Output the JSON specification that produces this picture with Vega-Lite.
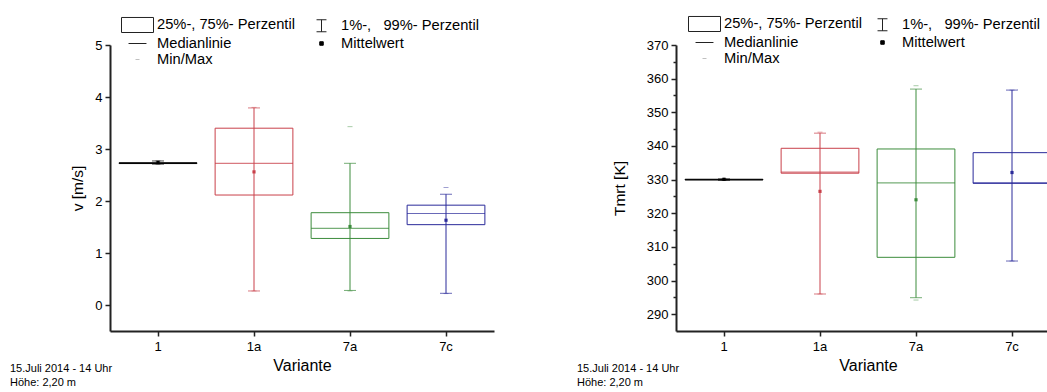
{
  "$schema": "https://vega.github.io/schema/vega-lite/v6.json",
  "background": "white",
  "padding": {"left": 10, "top": 15, "right": 0, "bottom": 0},
  "bounds": "flush",
  "spacing": 182,
  "config": {
    "font": "Liberation Sans",
    "view": {"stroke": null},
    "axis": {
      "grid": false,
      "labelColor": "black",
      "labelFontSize": 13,
      "labelOverlap": false,
      "titleColor": "black",
      "titleFontWeight": "normal",
      "titleFontSize": 15.5,
      "domainColor": "#222222",
      "domainWidth": 2,
      "tickColor": "#222222",
      "tickWidth": 1.5
    },
    "legend": {
      "title": null,
      "orient": "none",
      "columns": 2,
      "padding": 0,
      "offset": 0,
      "symbolSize": 256,
      "symbolStrokeWidth": 1,
      "labelOffset": 11,
      "rowPadding": 0,
      "labelFontSize": 14.7,
      "labelColor": "black",
      "labelLimit": 300
    }
  },
  "datasets": {
    "v": [
      {"variante": "1", "p1": 2.71, "q1": 2.72, "median": 2.73, "q3": 2.735, "p99": 2.77, "mean": 2.74, "min": 2.71, "max": 2.77},
      {"variante": "1a", "p1": 0.27, "q1": 2.115, "median": 2.725, "q3": 3.4, "p99": 3.79, "mean": 2.56, "min": 0.27, "max": 3.8},
      {"variante": "7a", "p1": 0.28, "q1": 1.28, "median": 1.475, "q3": 1.775, "p99": 2.725, "mean": 1.51, "min": 0.27, "max": 3.43},
      {"variante": "7c", "p1": 0.225, "q1": 1.545, "median": 1.76, "q3": 1.92, "p99": 2.13, "mean": 1.63, "min": 0.22, "max": 2.26}
    ],
    "tmrt": [
      {"variante": "1", "p1": 329.8, "q1": 329.9, "median": 330.0, "q3": 330.1, "p99": 330.2, "mean": 330.1, "min": 329.8, "max": 330.2},
      {"variante": "1a", "p1": 296.0, "q1": 331.9, "median": 332.2, "q3": 339.3, "p99": 343.8, "mean": 326.5, "min": 296.0, "max": 344.1},
      {"variante": "7a", "p1": 294.9, "q1": 306.9, "median": 329.0, "q3": 339.1, "p99": 356.9, "mean": 324.0, "min": 294.2, "max": 357.9},
      {"variante": "7c", "p1": 305.8, "q1": 328.9, "median": 329.0, "q3": 338.0, "p99": 356.6, "mean": 332.1, "min": 305.8, "max": 356.6}
    ],
    "legende": [
      {"item": "25%-, 75%- Perzentil"},
      {"item": "Medianlinie"},
      {"item": "Min/Max"},
      {"item": "1%-,\u00a0\u00a0 99%- Perzentil"},
      {"item": "Mittelwert"}
    ]
  },
  "resolve": {
    "scale": {"x": "independent", "y": "independent", "color": "independent", "shape": "independent", "fill": "independent", "stroke": "independent"},
    "legend": {"shape": "independent", "fill": "independent", "stroke": "independent"}
  },
  "hconcat": [
    {
      "width": 384,
      "height": 286,
      "title": {"text": ["15.Juli 2014 - 14 Uhr", "Höhe: 2,20 m"], "orient": "bottom", "anchor": "start", "frame": "group", "dx": -100, "offset": -10, "fontSize": 11, "fontWeight": "normal", "lineHeight": 14, "color": "black"},
      "data": {"name": "v"},
      "layer": [
        {
          "mark": {"type": "rule", "strokeWidth": 1},
          "encoding": {
            "x": {"field": "variante", "type": "nominal", "sort": ["1", "1a", "7a", "7c"], "scale": {"type": "band", "paddingInner": 0, "paddingOuter": 0}, "axis": {"title": "Variante", "titleFontSize": 16, "labelAngle": 0, "tickSize": 5, "labelPadding": 4, "titlePadding": 4}},
            "y": {"field": "p1", "type": "quantitative", "scale": {"domain": [-0.5, 5], "nice": false, "zero": false}, "axis": {"title": "v [m/s]", "values": [0, 0.5, 1, 1.5, 2, 2.5, 3, 3.5, 4, 4.5, 5], "tickCount": 30, "format": "d", "labelOverlap": false, "labelColor": {"condition": {"test": "datum.value % 1 !== 0", "value": "transparent"}, "value": "black"}, "tickSize": {"condition": {"test": "datum.value % 1 !== 0", "value": 3}, "value": 5}, "labelPadding": 3, "titlePadding": 9}},
            "y2": {"field": "p99"},
            "color": {"field": "variante", "type": "nominal", "scale": {"domain": ["1", "1a", "7a", "7c"], "range": ["#000000", "#c9404a", "#3c8c3c", "#2a2a9a"]}, "legend": null}
          }
        },
        {
          "mark": {"type": "tick", "size": 12, "thickness": 1},
          "encoding": {
            "x": {"field": "variante", "type": "nominal", "sort": ["1", "1a", "7a", "7c"]},
            "y": {"field": "p1", "type": "quantitative"},
            "color": {"field": "variante", "type": "nominal", "legend": null}
          }
        },
        {
          "mark": {"type": "tick", "size": 12, "thickness": 1},
          "encoding": {
            "x": {"field": "variante", "type": "nominal", "sort": ["1", "1a", "7a", "7c"]},
            "y": {"field": "p99", "type": "quantitative"},
            "color": {"field": "variante", "type": "nominal", "legend": null}
          }
        },
        {
          "mark": {"type": "bar", "filled": false, "strokeWidth": 1, "width": {"band": 0.81}},
          "encoding": {
            "x": {"field": "variante", "type": "nominal", "sort": ["1", "1a", "7a", "7c"]},
            "y": {"field": "q1", "type": "quantitative"},
            "y2": {"field": "q3"},
            "color": {"field": "variante", "type": "nominal", "legend": null}
          }
        },
        {
          "mark": {"type": "tick", "size": 78, "thickness": 1.2},
          "encoding": {
            "x": {"field": "variante", "type": "nominal", "sort": ["1", "1a", "7a", "7c"]},
            "y": {"field": "median", "type": "quantitative"},
            "color": {"field": "variante", "type": "nominal", "legend": null}
          }
        },
        {
          "mark": {"type": "point", "shape": "square", "filled": true, "size": 10, "opacity": 1},
          "encoding": {
            "x": {"field": "variante", "type": "nominal", "sort": ["1", "1a", "7a", "7c"]},
            "y": {"field": "mean", "type": "quantitative"},
            "color": {"field": "variante", "type": "nominal", "legend": null}
          }
        },
        {
          "mark": {"type": "tick", "size": 5, "thickness": 1, "opacity": 0.45},
          "encoding": {
            "x": {"field": "variante", "type": "nominal", "sort": ["1", "1a", "7a", "7c"]},
            "y": {"field": "min", "type": "quantitative"},
            "color": {"field": "variante", "type": "nominal", "legend": null}
          }
        },
        {
          "mark": {"type": "tick", "size": 5, "thickness": 1, "opacity": 0.45},
          "encoding": {
            "x": {"field": "variante", "type": "nominal", "sort": ["1", "1a", "7a", "7c"]},
            "y": {"field": "max", "type": "quantitative"},
            "color": {"field": "variante", "type": "nominal", "legend": null}
          }
        },
        {
          "data": {"name": "legende"},
          "mark": {"type": "point", "opacity": 0, "size": 0, "strokeWidth": 1},
          "encoding": {
            "shape": {
              "field": "item", "type": "nominal",
              "scale": {
                "domain": ["25%-, 75%- Perzentil", "Medianlinie", "Min/Max", "1%-,\u00a0\u00a0 99%- Perzentil", "Mittelwert"],
                "range": ["M-2,-0.94H2V0.94H-2Z", "M-1.12,0H1.12", "M-0.25,0H0.25", "M-0.62,-0.75H0.62M0,-0.75V0.75M-0.62,0.75H0.62", "M-0.22,-0.22H0.22V0.22H-0.22Z"]
              },
              "legend": {"legendX": 19, "legendY": -29, "columnPadding": 18, "symbolOpacity": 1}
            },
            "fill": {
              "field": "item", "type": "nominal",
              "scale": {
                "domain": ["25%-, 75%- Perzentil", "Medianlinie", "Min/Max", "1%-,\u00a0\u00a0 99%- Perzentil", "Mittelwert"],
                "range": ["transparent", "transparent", "transparent", "transparent", "#000000"]
              },
              "legend": {"legendX": 19, "legendY": -29, "columnPadding": 18, "symbolOpacity": 1}
            },
            "stroke": {
              "field": "item", "type": "nominal",
              "scale": {
                "domain": ["25%-, 75%- Perzentil", "Medianlinie", "Min/Max", "1%-,\u00a0\u00a0 99%- Perzentil", "Mittelwert"],
                "range": ["#222222", "#222222", "#c0c0c0", "#222222", "#000000"]
              },
              "legend": {"legendX": 19, "legendY": -29, "columnPadding": 18, "symbolOpacity": 1}
            }
          }
        }
      ]
    },
    {
      "width": 384,
      "height": 286,
      "title": {"text": ["15.Juli 2014 - 14 Uhr", "Höhe: 2,20 m"], "orient": "bottom", "anchor": "start", "frame": "group", "dx": -99, "offset": -10, "fontSize": 11, "fontWeight": "normal", "lineHeight": 14, "color": "black"},
      "data": {"name": "tmrt"},
      "layer": [
        {
          "mark": {"type": "rule", "strokeWidth": 1},
          "encoding": {
            "x": {"field": "variante", "type": "nominal", "sort": ["1", "1a", "7a", "7c"], "scale": {"type": "band", "paddingInner": 0, "paddingOuter": 0}, "axis": {"title": "Variante", "titleFontSize": 16, "labelAngle": 0, "tickSize": 5, "labelPadding": 4, "titlePadding": 4}},
            "y": {"field": "p1", "type": "quantitative", "scale": {"domain": [285, 370], "nice": false, "zero": false}, "axis": {"title": "Tmrt [K]", "values": [290, 295, 300, 305, 310, 315, 320, 325, 330, 335, 340, 345, 350, 355, 360, 365, 370], "tickCount": 30, "format": "d", "labelOverlap": false, "labelColor": {"condition": {"test": "datum.value % 10 !== 0", "value": "transparent"}, "value": "black"}, "tickSize": {"condition": {"test": "datum.value % 10 !== 0", "value": 3}, "value": 5}, "labelPadding": 3, "titlePadding": 19}},
            "y2": {"field": "p99"},
            "color": {"field": "variante", "type": "nominal", "scale": {"domain": ["1", "1a", "7a", "7c"], "range": ["#000000", "#c9404a", "#3c8c3c", "#2a2a9a"]}, "legend": null}
          }
        },
        {
          "mark": {"type": "tick", "size": 12, "thickness": 1},
          "encoding": {
            "x": {"field": "variante", "type": "nominal", "sort": ["1", "1a", "7a", "7c"]},
            "y": {"field": "p1", "type": "quantitative"},
            "color": {"field": "variante", "type": "nominal", "legend": null}
          }
        },
        {
          "mark": {"type": "tick", "size": 12, "thickness": 1},
          "encoding": {
            "x": {"field": "variante", "type": "nominal", "sort": ["1", "1a", "7a", "7c"]},
            "y": {"field": "p99", "type": "quantitative"},
            "color": {"field": "variante", "type": "nominal", "legend": null}
          }
        },
        {
          "mark": {"type": "bar", "filled": false, "strokeWidth": 1, "width": {"band": 0.81}},
          "encoding": {
            "x": {"field": "variante", "type": "nominal", "sort": ["1", "1a", "7a", "7c"]},
            "y": {"field": "q1", "type": "quantitative"},
            "y2": {"field": "q3"},
            "color": {"field": "variante", "type": "nominal", "legend": null}
          }
        },
        {
          "mark": {"type": "tick", "size": 78, "thickness": 1.2},
          "encoding": {
            "x": {"field": "variante", "type": "nominal", "sort": ["1", "1a", "7a", "7c"]},
            "y": {"field": "median", "type": "quantitative"},
            "color": {"field": "variante", "type": "nominal", "legend": null}
          }
        },
        {
          "mark": {"type": "point", "shape": "square", "filled": true, "size": 10, "opacity": 1},
          "encoding": {
            "x": {"field": "variante", "type": "nominal", "sort": ["1", "1a", "7a", "7c"]},
            "y": {"field": "mean", "type": "quantitative"},
            "color": {"field": "variante", "type": "nominal", "legend": null}
          }
        },
        {
          "mark": {"type": "tick", "size": 5, "thickness": 1, "opacity": 0.45},
          "encoding": {
            "x": {"field": "variante", "type": "nominal", "sort": ["1", "1a", "7a", "7c"]},
            "y": {"field": "min", "type": "quantitative"},
            "color": {"field": "variante", "type": "nominal", "legend": null}
          }
        },
        {
          "mark": {"type": "tick", "size": 5, "thickness": 1, "opacity": 0.45},
          "encoding": {
            "x": {"field": "variante", "type": "nominal", "sort": ["1", "1a", "7a", "7c"]},
            "y": {"field": "max", "type": "quantitative"},
            "color": {"field": "variante", "type": "nominal", "legend": null}
          }
        },
        {
          "data": {"name": "legende"},
          "mark": {"type": "point", "opacity": 0, "size": 0, "strokeWidth": 1},
          "encoding": {
            "shape": {
              "field": "item", "type": "nominal",
              "scale": {
                "domain": ["25%-, 75%- Perzentil", "Medianlinie", "Min/Max", "1%-,\u00a0\u00a0 99%- Perzentil", "Mittelwert"],
                "range": ["M-2,-0.94H2V0.94H-2Z", "M-1.12,0H1.12", "M-0.25,0H0.25", "M-0.62,-0.75H0.62M0,-0.75V0.75M-0.62,0.75H0.62", "M-0.22,-0.22H0.22V0.22H-0.22Z"]
              },
              "legend": {"legendX": 20, "legendY": -30, "columnPadding": 12, "symbolOpacity": 1}
            },
            "fill": {
              "field": "item", "type": "nominal",
              "scale": {
                "domain": ["25%-, 75%- Perzentil", "Medianlinie", "Min/Max", "1%-,\u00a0\u00a0 99%- Perzentil", "Mittelwert"],
                "range": ["transparent", "transparent", "transparent", "transparent", "#000000"]
              },
              "legend": {"legendX": 20, "legendY": -30, "columnPadding": 12, "symbolOpacity": 1}
            },
            "stroke": {
              "field": "item", "type": "nominal",
              "scale": {
                "domain": ["25%-, 75%- Perzentil", "Medianlinie", "Min/Max", "1%-,\u00a0\u00a0 99%- Perzentil", "Mittelwert"],
                "range": ["#222222", "#222222", "#c0c0c0", "#222222", "#000000"]
              },
              "legend": {"legendX": 20, "legendY": -30, "columnPadding": 12, "symbolOpacity": 1}
            }
          }
        }
      ]
    }
  ]
}
